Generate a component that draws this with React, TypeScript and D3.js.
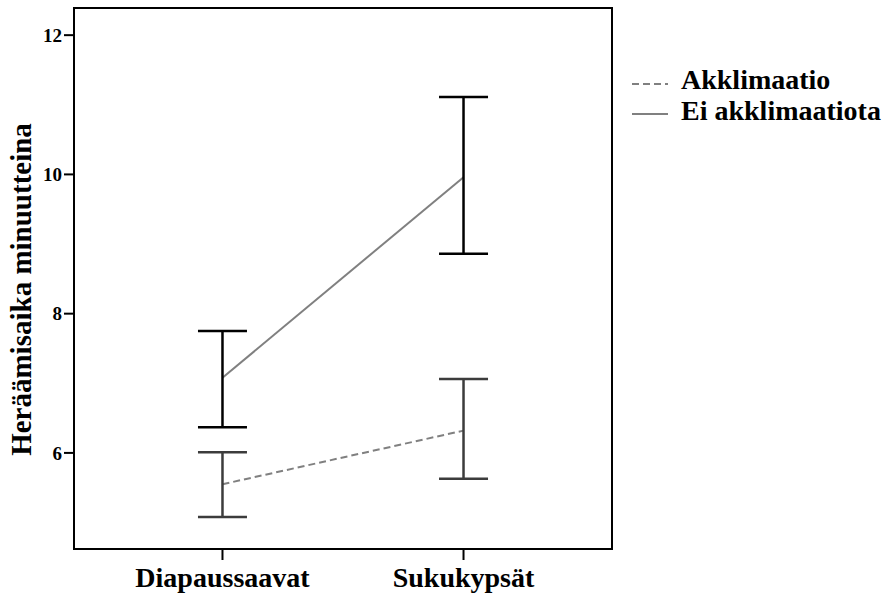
import React from "react";
import * as d3 from "d3";

const categories = ["Diapaussaavat", "Sukukypsät"];
const seriesNames = ["Akklimaatio", "Ei akklimaatiota"];

// means and 95% CI ends, one value per category
const akkMean = [5.55, 6.32];
const akkLow = [5.08, 5.63];
const akkHigh = [6.01, 7.06];

const eiMean = [7.08, 9.96];
const eiLow = [6.37, 8.86];
const eiHigh = [7.75, 11.11];

const yTicks = [6, 8, 10, 12];

const W = 884;
const H = 594;
const left = 74;
const right = 612;
const top = 8;
const bottom = 549;
const font = "Liberation Serif";

const series = [
  { name: seriesNames[0], mean: akkMean, low: akkLow, high: akkHigh, bar: "#3c3c3c", dash: "7,4" },
  { name: seriesNames[1], mean: eiMean, low: eiLow, high: eiHigh, bar: "#000000", dash: null },
];

const txt = (size: number): React.CSSProperties => ({
  fontFamily: font,
  fontWeight: 700,
  fontSize: size,
});

export default function App() {
  const x = d3.scalePoint<string>().domain(categories).range([left, right]).padding(0.616);
  const y = d3.scaleLinear().domain([4.62, 12.39]).range([bottom, top]);
  const line = d3
    .line<number>()
    .x((_, i) => x(categories[i]) as number)
    .y((d) => y(d));
  const cap = 24.5;

  return (
    <svg
      width={W}
      height={H}
      style={{ position: "absolute", left: 0, top: 0, background: "#fff" }}
    >
      {/* mean lines */}
      {series.map((s) => (
        <path
          key={s.name + "line"}
          d={line(s.mean) ?? ""}
          fill="none"
          stroke="#808080"
          strokeWidth={2}
          strokeDasharray={s.dash ?? undefined}
        />
      ))}

      {/* error bars */}
      {series.map((s) =>
        categories.map((c, i) => {
          const cx = x(c) as number;
          return (
            <g key={s.name + c} stroke={s.bar} strokeWidth={2.5}>
              <line x1={cx} x2={cx} y1={y(s.low[i])} y2={y(s.high[i])} />
              <line x1={cx - cap} x2={cx + cap} y1={y(s.high[i])} y2={y(s.high[i])} />
              <line x1={cx - cap} x2={cx + cap} y1={y(s.low[i])} y2={y(s.low[i])} />
            </g>
          );
        })
      )}

      {/* frame */}
      <rect
        x={left}
        y={top}
        width={right - left}
        height={bottom - top}
        fill="none"
        stroke="#000"
        strokeWidth={2}
      />

      {/* y axis */}
      {yTicks.map((t) => (
        <g key={t}>
          <line x1={left - 10} x2={left} y1={y(t)} y2={y(t)} stroke="#000" strokeWidth={2} />
          <text x={left - 12} y={y(t)} dy="0.35em" textAnchor="end" style={txt(19)}>
            {t}
          </text>
        </g>
      ))}
      <text
        transform={`translate(31, ${(top + bottom) / 2 + 11}) rotate(-90)`}
        textAnchor="middle"
        style={txt(29)}
      >
        Heräämisaika minuutteina
      </text>

      {/* x axis */}
      {categories.map((c) => (
        <g key={c}>
          <line
            x1={x(c)}
            x2={x(c)}
            y1={bottom}
            y2={bottom + 11}
            stroke="#000"
            strokeWidth={2}
          />
          <text x={x(c)} y={587} textAnchor="middle" style={txt(28)}>
            {c}
          </text>
        </g>
      ))}

      {/* legend */}
      {series.map((s, i) => (
        <g key={s.name + "legend"}>
          <line
            x1={632}
            x2={668}
            y1={84 + i * 30}
            y2={84 + i * 30}
            stroke="#808080"
            strokeWidth={2}
            strokeDasharray={s.dash ?? undefined}
          />
          <text x={681} y={89 + i * 31} style={txt(28)}>
            {s.name}
          </text>
        </g>
      ))}
    </svg>
  );
}
